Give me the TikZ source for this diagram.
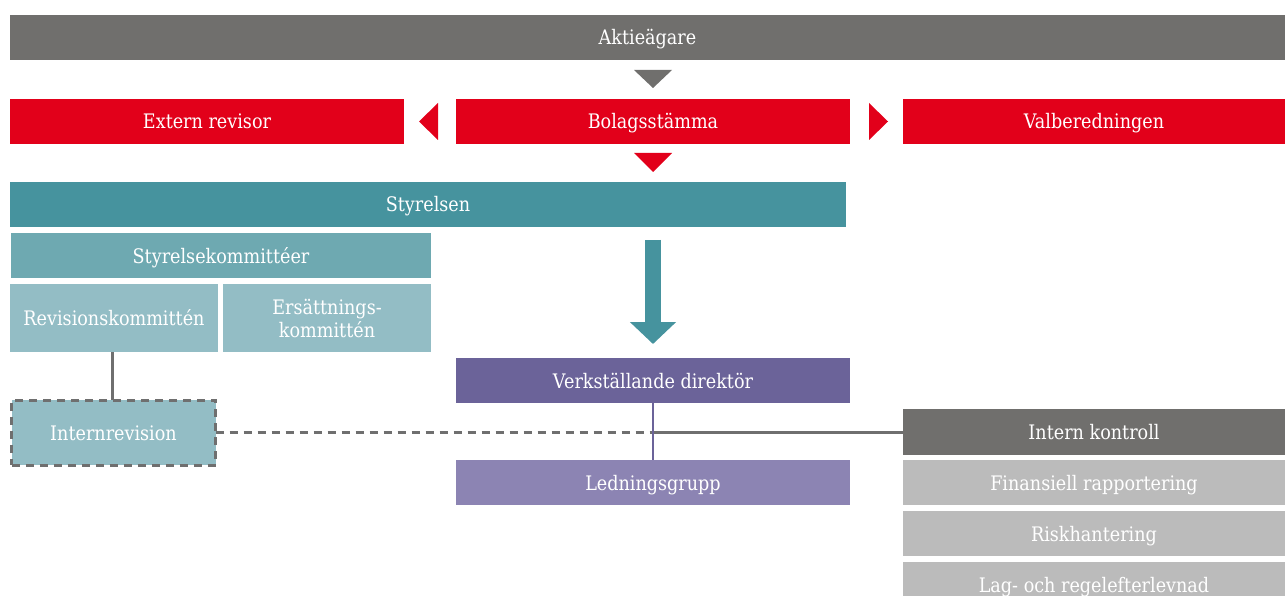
\documentclass[tikz,border=0pt]{standalone}
\usepackage{fontspec}
\setmainfont[FakeStretch=0.88]{DejaVu Serif}
\usetikzlibrary{arrows.meta,calc}
\definecolor{cgray}{HTML}{706F6D}
\definecolor{cred}{HTML}{E2001A}
\definecolor{cteal}{HTML}{46939E}
\definecolor{cteal2}{HTML}{6EA9B1}
\definecolor{cteal3}{HTML}{93BDC5}
\definecolor{cpurp}{HTML}{6B6399}
\definecolor{cpurp2}{HTML}{8C84B3}
\definecolor{clgray}{HTML}{BBBBBB}
\definecolor{cline}{HTML}{6F6F6F}
\begin{document}
\begin{tikzpicture}[x=1pt,y=-1pt,
  box/.style={draw=none,fill=#1,text=white,inner sep=0pt,outer sep=0pt,
    font=\fontsize{20}{23}\selectfont,align=center},
  one/.style={text height=15pt,text depth=0pt},
  wh/.style args={#1x#2}{minimum width=#1pt,minimum height=#2pt},
  conn/.style={draw=cline,line width=3pt},
  dsh/.style={dash pattern=on 8pt off 6pt}]
\useasboundingbox (0,0) rectangle (1285,596);
\clip (0,0) rectangle (1285,596);
\node[box=cgray,one,wh=1275x45] (akt) at (647.5,37.5) {Aktieägare};
\node[box=cred,one,wh=394x45] (ext) at (207,121.5) {Extern revisor};
\node[box=cred,one,wh=394x45] (bol) at (653,121.5) {Bolagsstämma};
\node[box=cred,one,wh=382x45] (val) at (1094,121.5) {Valberedningen};
\node[box=cteal,one,wh=836x45] (sty) at (428,204.5) {Styrelsen};
\node[box=cteal2,one,wh=420x45] (kom) at (221,255.5) {Styrelsekommittéer};
\node[box=cteal3,one,wh=208x68] (rev) at (114,318) {Revisionskommittén};
\node[box=cteal3,wh=208x68] (ers) at (327,318) {Ersättnings-\\kommittén};
\node[box=cteal3,one,wh=204x65,draw=cline,line width=3pt,dsh] (inr) at (113.5,432.5) {Internrevision};
\node[box=cpurp,one,wh=394x45] (vd) at (653,380.5) {Verkställande direktör};
\node[box=cpurp2,one,wh=394x45] (led) at (653,482.5) {Ledningsgrupp};
\node[box=cgray,one,wh=382x46] (ik) at (1094,432) {Intern kontroll};
\node[box=clgray,one,wh=382x45] (fin) at (1094,482.5) {Finansiell rapportering};
\node[box=clgray,one,wh=382x45] (risk) at (1094,533.5) {Riskhantering};
\node[box=clgray,one,wh=382x45] (lag) at (1094,584.5) {Lag- och regelefterlevnad};
% triangles
\fill[cgray] ($(akt.south -| bol.north)+(-19,10)$) -- ++(38,0) -- ++(-19,18) -- cycle;
\fill[cred] ($(bol.south)+(-19,9)$) -- ++(38,0) -- ++(-19,19) -- cycle;
\fill[cred] ($(bol.west)+(-18,-18.5)$) -- ++(0,37) -- ++(-19,-18.5) -- cycle;
\fill[cred] ($(bol.east)+(19,-18.5)$) -- ++(0,37) -- ++(19,-18.5) -- cycle;
% teal arrow
\draw[cteal,line width=16pt,-{Triangle[width=45pt,length=22pt]},shorten <=13pt,shorten >=14pt]
  (sty.south -| vd.north) -- (vd.north);
% connectors
\draw[conn] (rev.south -| 112,0) -- (inr.north -| 112,0);
\coordinate (j) at (vd.south |- ik.west);
\draw[conn,dsh] (inr.east |- j) -- (j);
\draw[conn] (j) -- (ik.west);
\draw[cpurp,line width=2pt] (vd.south) -- (led.north);
\end{tikzpicture}
\end{document}
